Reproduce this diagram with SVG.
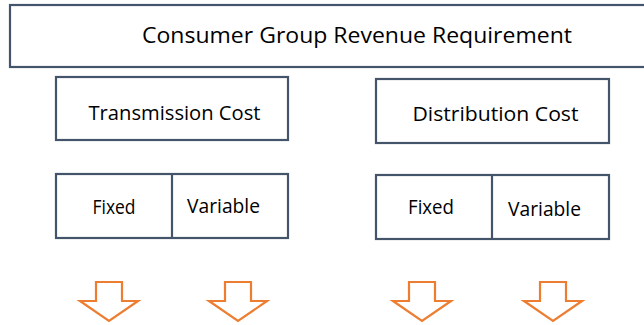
<svg xmlns="http://www.w3.org/2000/svg" width="644" height="325" viewBox="0 0 644 325">
<defs>
<style>
.box{fill:#ffffff;stroke:#44546A;stroke-width:2.2}
.div{stroke:#44546A;stroke-width:2.2}
.t{font-family:"Open Sans","Noto Sans","Liberation Sans",sans-serif;fill:#000000}
.arr{fill:#ffffff;stroke:#ED7D31;stroke-width:2.2;stroke-linejoin:miter}
</style>
</defs>
<rect width="644" height="325" fill="#ffffff"/>
<g id="revenue">
<rect class="box" x="10" y="5" width="640" height="62"/>
<text class="t" x="142" y="43" font-size="22.5" textLength="430" lengthAdjust="spacingAndGlyphs">Consumer Group Revenue Requirement</text>
</g>
<g id="transmission">
<rect class="box" x="56" y="77" width="232" height="63"/>
<text class="t" x="88.5" y="119.5" font-size="19.5" textLength="172" lengthAdjust="spacingAndGlyphs">Transmission Cost</text>
</g>
<g id="distribution">
<rect class="box" x="376" y="79" width="233" height="64"/>
<text class="t" x="412.5" y="121" font-size="19.5" textLength="166" lengthAdjust="spacingAndGlyphs">Distribution Cost</text>
</g>
<g id="trans-split">
<rect class="box" x="56" y="174" width="232" height="64"/>
<line class="div" x1="172" y1="174" x2="172" y2="238"/>
<text class="t" x="92.5" y="214" font-size="19.5" textLength="43" lengthAdjust="spacingAndGlyphs">Fixed</text>
<text class="t" x="187" y="213" font-size="19.5" textLength="73" lengthAdjust="spacingAndGlyphs">Variable</text>
</g>
<g id="dist-split">
<rect class="box" x="376" y="175" width="233" height="64"/>
<line class="div" x1="492" y1="175" x2="492" y2="239"/>
<text class="t" x="408" y="214" font-size="19.5" textLength="46" lengthAdjust="spacingAndGlyphs">Fixed</text>
<text class="t" x="508" y="215.5" font-size="19.5" textLength="73" lengthAdjust="spacingAndGlyphs">Variable</text>
</g>
<g id="connectors">
<path class="arr" d="M96,282 H122 V301 H138 L109,321 L80,301 H96 Z"/>
<path class="arr" d="M225,282 H251 V301 H267 L238,321 L209,301 H225 Z"/>
<path class="arr" d="M409,282 H435 V301 H451 L422,321 L393,301 H409 Z"/>
<path class="arr" d="M540,282 H566 V301 H582 L553,321 L524,301 H540 Z"/>
</g>
</svg>
